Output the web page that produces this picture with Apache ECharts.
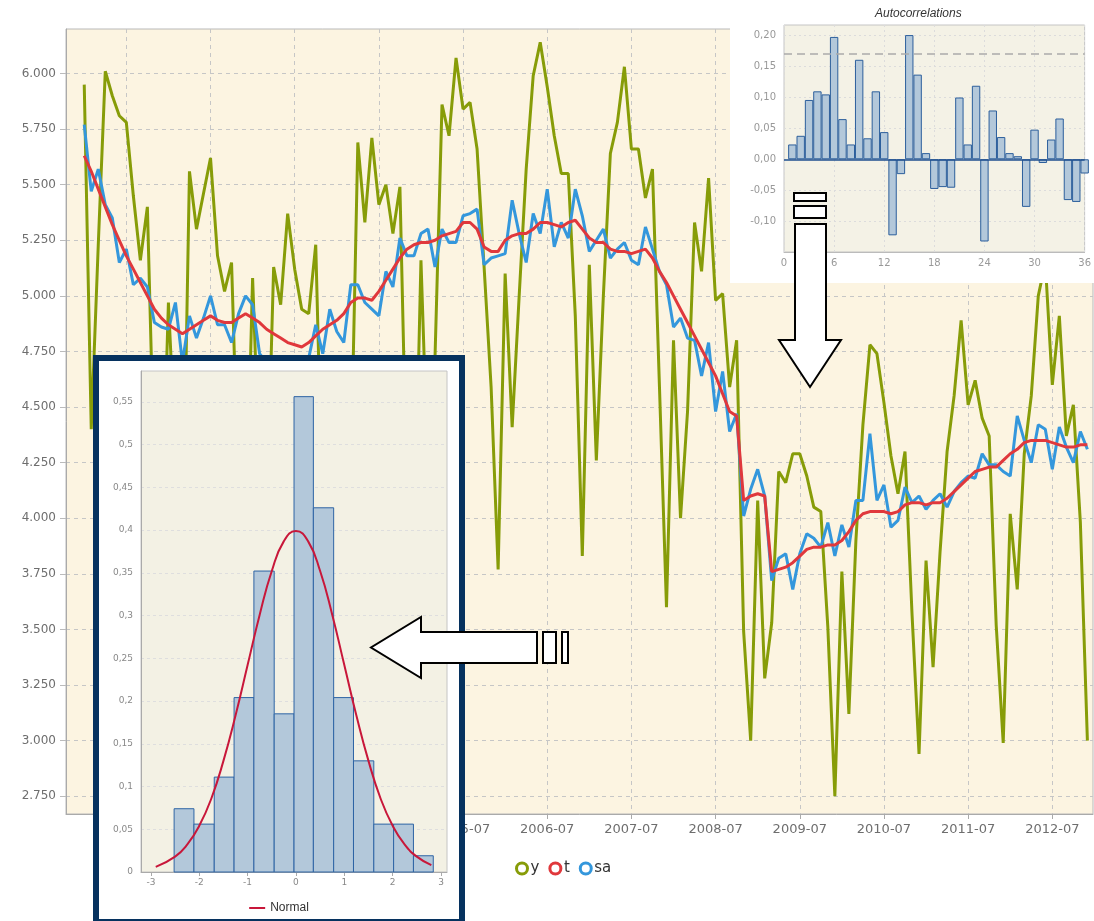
<!DOCTYPE html>
<html>
<head>
<meta charset="utf-8">
<script src="https://cdn.jsdelivr.net/npm/echarts@6/dist/echarts.min.js"></script>
<style>
  html, body { margin: 0; padding: 0; background: #fff; overflow: hidden; }
  #main { position: absolute; left: 0; top: 0; width: 1094px; height: 921px; }
  #acf { position: absolute; left: 730px; top: 0; width: 364px; height: 283px; background: #fff; }
  #hist { position: absolute; left: 93px; top: 355px; width: 372px; height: 570px;
          box-sizing: border-box; border: 6px solid #06325f; background: #fff; }
  #histChart { width: 360px; height: 558px; }
  #arrows { position: absolute; left: 0; top: 0; width: 1094px; height: 921px; pointer-events: none; }
</style>
</head>
<body>
<div id="main"></div>
<div id="acf"></div>
<div id="hist"><div id="histChart"></div></div>
<div id="arrows"></div>
<script>
// DATA

// monthly, 2001-01 .. 2012-12
var months = [];
for (var k = 0; k < 144; k++) {
  months.push((2001 + Math.floor(k / 12)) + "-" + String(k % 12 + 1).padStart(2, "0"));
}
var xTickLabels = ["2001-07", "2002-07", "2003-07", "2004-07", "2005-07", "2006-07",
                   "2007-07", "2008-07", "2009-07", "2010-07", "2011-07", "2012-07"];
var yTicks = [2.75, 3.0, 3.25, 3.5, 3.75, 4.0, 4.25, 4.5, 4.75, 5.0, 5.25, 5.5, 5.75, 6.0];

var ySeries = [
  5.95, 4.40, 5.23, 6.01, 5.90, 5.81, 5.78, 5.45, 5.16, 5.40,
  4.20, 3.90, 4.97, 4.30, 3.80, 5.56, 5.30, 5.46, 5.62, 5.18,
  5.02, 5.15, 4.10, 3.85, 5.08, 4.20, 4.00, 5.13, 4.96, 5.37,
  5.12, 4.94, 4.92, 5.23, 4.00, 3.70, 4.40, 3.90, 4.20, 5.69,
  5.33, 5.71, 5.41, 5.50, 5.28, 5.49, 4.10, 3.80, 5.16, 4.20,
  4.72, 5.86, 5.72, 6.07, 5.84, 5.87, 5.66, 5.13, 4.59, 3.77,
  5.10, 4.41, 5.00, 5.57, 5.99, 6.14, 5.94, 5.72, 5.55, 5.55,
  4.91, 3.83, 5.14, 4.26, 5.00, 5.64, 5.78, 6.03, 5.66, 5.66,
  5.44, 5.57, 4.59, 3.60, 4.80, 4.00, 4.48, 5.33, 5.11, 5.53,
  4.98, 5.01, 4.59, 4.80, 3.49, 3.00, 4.08, 3.28, 3.53, 4.21,
  4.16, 4.29, 4.29, 4.19, 4.05, 4.03, 3.51, 2.75, 3.76, 3.12,
  3.90, 4.42, 4.78, 4.74, 4.52, 4.28, 4.11, 4.30, 3.57, 2.94,
  3.81, 3.33, 3.85, 4.30, 4.55, 4.89, 4.51, 4.62, 4.45, 4.37,
  3.52, 2.99, 4.02, 3.68, 4.29, 4.55, 5.00, 5.15, 4.60, 4.91,
  4.37, 4.51, 3.98, 3.00
];
var tSeries = [
  5.63, 5.56, 5.48, 5.40, 5.32, 5.25, 5.18, 5.12, 5.06, 5.00,
  4.94, 4.90, 4.87, 4.85, 4.83, 4.85, 4.87, 4.89, 4.91, 4.89,
  4.88, 4.88, 4.90, 4.92, 4.90, 4.88, 4.85, 4.83, 4.81, 4.79,
  4.78, 4.77, 4.79, 4.82, 4.85, 4.87, 4.89, 4.92, 4.97, 4.99,
  4.99, 4.98, 5.02, 5.07, 5.12, 5.17, 5.21, 5.23, 5.24, 5.24,
  5.25, 5.27, 5.28, 5.29, 5.33, 5.33, 5.30, 5.22, 5.20, 5.20,
  5.25, 5.27, 5.28, 5.28, 5.30, 5.33, 5.33, 5.32, 5.31, 5.33,
  5.34, 5.30, 5.26, 5.24, 5.24, 5.21, 5.20, 5.20, 5.19, 5.20,
  5.21, 5.17, 5.11, 5.06, 5.00, 4.94, 4.88, 4.82, 4.76, 4.70,
  4.64, 4.56, 4.48, 4.46, 4.08, 4.10, 4.11, 4.10, 3.76, 3.77,
  3.78, 3.80, 3.83, 3.86, 3.87, 3.87, 3.88, 3.88, 3.90, 3.94,
  3.99, 4.02, 4.03, 4.03, 4.03, 4.02, 4.03, 4.06, 4.07, 4.07,
  4.06, 4.07, 4.07, 4.09, 4.12, 4.15, 4.18, 4.21, 4.22, 4.23,
  4.23, 4.26, 4.29, 4.31, 4.34, 4.35, 4.35, 4.35, 4.34, 4.33,
  4.32, 4.32, 4.33, 4.33
];
var saSeries = [
  5.77, 5.47, 5.57, 5.41, 5.35, 5.15, 5.21, 5.05, 5.08, 5.04,
  4.88, 4.86, 4.85, 4.97, 4.70, 4.91, 4.81, 4.90, 5.00, 4.87,
  4.87, 4.79, 4.92, 5.00, 4.96, 4.74, 4.70, 4.66, 4.72, 4.68,
  4.70, 4.66, 4.72, 4.87, 4.74, 4.94, 4.84, 4.79, 5.05, 5.05,
  4.97, 4.94, 4.91, 5.11, 5.04, 5.26, 5.18, 5.18, 5.28, 5.30,
  5.13, 5.30, 5.24, 5.24, 5.36, 5.37, 5.39, 5.14, 5.17, 5.18,
  5.19, 5.43, 5.28, 5.15, 5.37, 5.28, 5.48, 5.22, 5.33, 5.26,
  5.48, 5.36, 5.20, 5.25, 5.30, 5.17, 5.21, 5.24, 5.16, 5.14,
  5.31, 5.21, 5.11, 5.05, 4.86, 4.90, 4.81, 4.80, 4.64, 4.79,
  4.48, 4.66, 4.39, 4.47, 4.01, 4.13, 4.22, 4.10, 3.72, 3.82,
  3.84, 3.68, 3.84, 3.93, 3.91, 3.87, 3.98, 3.83, 3.97, 3.87,
  4.08, 4.08, 4.38, 4.08, 4.15, 3.96, 3.99, 4.14, 4.07, 4.10,
  4.04, 4.08, 4.11, 4.05, 4.12, 4.16, 4.19, 4.18, 4.29, 4.24,
  4.24, 4.21, 4.19, 4.46, 4.35, 4.25, 4.42, 4.40, 4.22, 4.41,
  4.32, 4.25, 4.39, 4.31
];

// autocorrelations, lags 1..36
var acfValues = [
  0.024, 0.038, 0.096, 0.110, 0.105, 0.198, 0.065, 0.024, 0.161, 0.034,
  0.110, 0.044, -0.123, -0.024, 0.201, 0.137, 0.010, -0.048, -0.045, -0.046,
  0.100, 0.024, 0.119, -0.133, 0.079, 0.036, 0.010, 0.005, -0.077, 0.048,
  -0.006, 0.032, 0.066, -0.066, -0.069, -0.023
];
var acfLimit = 0.175;
var acfYTicks = [-0.10, -0.05, 0.00, 0.05, 0.10, 0.15, 0.20];

// residual histogram
var binEdges = [-2.52, -2.11, -1.69, -1.28, -0.87, -0.45, -0.04, 0.36, 0.78, 1.19, 1.61, 2.02, 2.43, 2.84];
var densities = [0.074, 0.056, 0.111, 0.204, 0.352, 0.185, 0.556, 0.426, 0.204, 0.130, 0.056, 0.056, 0.019];
var normalX = [-2.9, -2.5, -2.25, -2.0, -1.75, -1.5, -1.25, -1.0, -0.75, -0.5, -0.25, 0,
               0.25, 0.5, 0.75, 1.0, 1.25, 1.5, 1.75, 2.0, 2.25, 2.5, 2.8];
var normalY = [0.006, 0.018, 0.032, 0.054, 0.086, 0.130, 0.183, 0.242, 0.301, 0.352, 0.387, 0.399,
               0.387, 0.352, 0.301, 0.242, 0.183, 0.130, 0.086, 0.054, 0.032, 0.018, 0.008];
var histYTicks = [0, 0.05, 0.1, 0.15, 0.2, 0.25, 0.3, 0.35, 0.4, 0.45, 0.5, 0.55];
var histXTicks = [-3, -2, -1, 0, 1, 2, 3];

// STYLE
var colY = "#879c08", colT = "#e0383c", colSA = "#3497dc";
var FONT = "DejaVu Sans";
function comma(v, d) { return (d == null ? String(+v.toFixed(2)) : v.toFixed(d)).replace(".", ","); }

// MAIN CHART
var xTickIdx = xTickLabels.map(function (m) { return months.indexOf(m); });
function pairs(arr) { return arr.map(function (v, i) { return [i, v]; }); }

var main = echarts.init(document.getElementById("main"));
main.setOption({
  animation: false,
  grid: { left: 66, right: 1, top: 29, bottom: 107, show: true,
          backgroundColor: "#fcf4e1", borderColor: "#b8b8b8", borderWidth: 1 },
  legend: {
    left: 510, top: 856, icon: "circle", itemWidth: 11, itemHeight: 11, itemGap: 9,
    textStyle: { fontSize: 15, color: "#333", fontFamily: FONT, padding: [0, 0, 0, -2] },
    data: [
      { name: "y", itemStyle: { color: "#fff", borderColor: colY, borderWidth: 3 } },
      { name: "t", itemStyle: { color: "#fff", borderColor: colT, borderWidth: 3 } },
      { name: "sa", itemStyle: { color: "#fff", borderColor: colSA, borderWidth: 3 } }
    ]
  },
  xAxis: {
    type: "value", min: -2.6, max: 143.8,
    axisLine: { onZero: false, lineStyle: { color: "#aaa" } },
    axisTick: { customValues: xTickIdx, length: 5, lineStyle: { color: "#aaa" } },
    axisLabel: { customValues: xTickIdx, formatter: function (v) { return months[v]; },
                 color: "#6e6e6e", fontSize: 13, fontFamily: FONT, margin: 9 },
    splitLine: { show: true, lineStyle: { type: [4, 4], color: "#c6c6c6" } }
  },
  yAxis: {
    type: "value", min: 2.67, max: 6.2,
    axisLine: { show: true, onZero: false, lineStyle: { color: "#aaa" } },
    axisTick: { show: true, customValues: yTicks, length: 6, lineStyle: { color: "#bbb" } },
    axisLabel: { customValues: yTicks, formatter: function (v) { return v.toFixed(3); },
                 color: "#6e6e6e", fontSize: 12, fontFamily: FONT, margin: 10 },
    splitLine: { show: true, lineStyle: { type: [4, 4], color: "#c6c6c6" } }
  },
  series: [
    { name: "y", type: "line", data: pairs(ySeries), showSymbol: false, z: 2,
      lineStyle: { color: colY, width: 3 }, itemStyle: { color: colY } },
    { name: "sa", type: "line", data: pairs(saSeries), showSymbol: false, z: 3,
      lineStyle: { color: colSA, width: 3 }, itemStyle: { color: colSA } },
    { name: "t", type: "line", data: pairs(tSeries), showSymbol: false, z: 4,
      lineStyle: { color: colT, width: 3 }, itemStyle: { color: colT } }
  ]
});

// AUTOCORRELATIONS INSET
var acf = echarts.init(document.getElementById("acf"));
acf.setOption({
  animation: false,
  title: { text: "Autocorrelations", left: 140, top: 3,
           textStyle: { fontSize: 12, fontStyle: "italic", fontWeight: "normal",
                        color: "#333", fontFamily: "Liberation Sans" } },
  grid: { left: 54, right: 8, top: 25, bottom: 31, show: true,
          backgroundColor: "#f4f2e6", borderColor: "#c4c4c4", borderWidth: 1 },
  xAxis: {
    type: "value", min: 0, max: 36, interval: 6,
    axisLine: { onZero: false, lineStyle: { color: "#bbb" } }, axisTick: { show: false },
    axisLabel: { color: "#999", fontSize: 10, fontFamily: FONT, margin: 6 },
    splitLine: { show: true, lineStyle: { type: [2, 3], color: "#dcdcdc" } }
  },
  yAxis: {
    type: "value", min: -0.15, max: 0.2173,
    axisLine: { show: false, onZero: false }, axisTick: { show: false, customValues: acfYTicks },
    axisLabel: { customValues: acfYTicks, formatter: function (v) { return comma(v, 2); },
                 color: "#999", fontSize: 10, fontFamily: FONT, margin: 8 },
    splitLine: { show: true, lineStyle: { type: [2, 3], color: "#dcdcdc" } }
  },
  series: [{
    type: "bar", clip: true, barWidth: 8.4,
    data: acfValues.map(function (v, i) { return [i + 1, v]; }),
    itemStyle: { color: "#b3c8da", borderColor: "#2c5f9c", borderWidth: 1 },
    markLine: {
      silent: true, symbol: "none", label: { show: false }, animation: false,
      data: [
        { yAxis: 0, lineStyle: { color: "#1f4f8f", type: "solid", width: 1.5 } },
        { yAxis: acfLimit, lineStyle: { color: "#aaa", type: [8, 5], width: 1.5 } }
      ]
    }
  }]
});

// HISTOGRAM INSET
var hist = echarts.init(document.getElementById("histChart"));
hist.setOption({
  animation: false,
  grid: { left: 42, right: 12, top: 10, bottom: 47, show: true,
          backgroundColor: "#f3f1e4", borderColor: "#c4c4c4", borderWidth: 1 },
  legend: {
    data: ["Normal"], left: "center", top: 536, icon: "rect", itemWidth: 16, itemHeight: 2,
    textStyle: { fontSize: 12, color: "#333", fontFamily: "Liberation Sans" }
  },
  xAxis: {
    type: "value", min: -3.205, max: 3.124,
    axisLine: { onZero: false, lineStyle: { color: "#aaa" } },
    axisTick: { customValues: histXTicks, length: 4, lineStyle: { color: "#aaa" } },
    axisLabel: { customValues: histXTicks, color: "#888", fontSize: 9, fontFamily: FONT, margin: 6 },
    splitLine: { show: false }
  },
  yAxis: {
    type: "value", min: 0, max: 0.586,
    axisLine: { show: true, onZero: false, lineStyle: { color: "#aaa" } },
    axisTick: { show: false, customValues: histYTicks },
    axisLabel: { customValues: histYTicks, formatter: function (v) { return v === 0 ? "0" : comma(v); },
                 color: "#888", fontSize: 9, fontFamily: FONT, margin: 8 },
    splitLine: { show: true, lineStyle: { type: [3, 3], color: "#dedede" } }
  },
  series: [
    {
      type: "custom",
      data: densities.map(function (d, i) { return [binEdges[i], binEdges[i + 1], d]; }),
      encode: { x: [0, 1], y: 2 },
      renderItem: function (params, api) {
        var p0 = api.coord([api.value(0), api.value(2)]);
        var p1 = api.coord([api.value(1), 0]);
        return { type: "rect",
                 shape: { x: p0[0], y: p0[1], width: p1[0] - p0[0], height: p1[1] - p0[1] },
                 style: { fill: "#b3c8da", stroke: "#2e64a4", lineWidth: 1 } };
      }
    },
    {
      name: "Normal", type: "line", smooth: true, showSymbol: false, z: 5,
      data: normalX.map(function (x, i) { return [x, normalY[i]]; }),
      lineStyle: { color: "#c8173a", width: 2 }, itemStyle: { color: "#c8173a" }
    }
  ]
});

// ARROWS (on top of everything)
var arrows = echarts.init(document.getElementById("arrows"));
var arrowStyle = { fill: "#fff", stroke: "#000", lineWidth: 2 };
arrows.setOption({
  animation: false,
  graphic: [
    { type: "rect", shape: { x: 794, y: 193, width: 32, height: 8 }, style: arrowStyle },
    { type: "rect", shape: { x: 794, y: 206, width: 32, height: 12 }, style: arrowStyle },
    { type: "polygon", style: arrowStyle,
      shape: { points: [[795, 224], [826, 224], [826, 340], [841, 340], [810, 387], [779, 340], [795, 340]] } },
    { type: "polygon", style: arrowStyle,
      shape: { points: [[537, 632], [421, 632], [421, 617], [371, 647.5], [421, 678], [421, 663], [537, 663]] } },
    { type: "rect", shape: { x: 543, y: 632, width: 13, height: 31 }, style: arrowStyle },
    { type: "rect", shape: { x: 562, y: 632, width: 6, height: 31 }, style: arrowStyle }
  ]
});
</script>
</body>
</html>
